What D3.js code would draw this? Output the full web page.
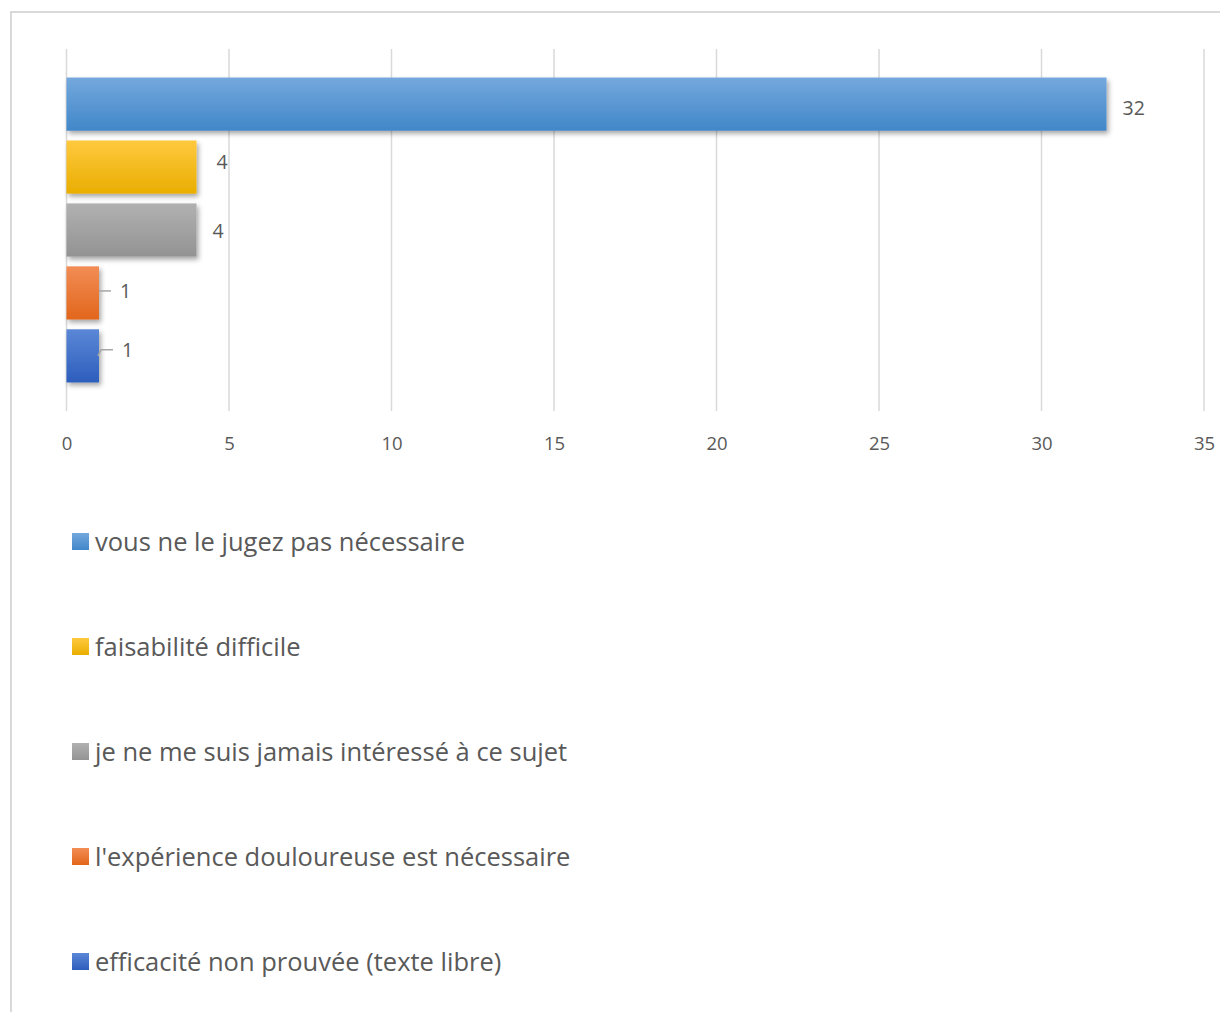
<!DOCTYPE html>
<html>
<head>
<meta charset="utf-8">
<script src="https://cdn.jsdelivr.net/npm/d3@7"></script>
<style>
  body { margin: 0; background: #fff; }
  text { font-family: "Open Sans", "Noto Sans", sans-serif; fill: #595959; }
</style>
</head>
<body>
<svg id="chart"></svg>
<script>
const width = 1220, height = 1012;
const categories = [
  "vous ne le jugez pas nécessaire",
  "faisabilité difficile",
  "je ne me suis jamais intéressé à ce sujet",
  "l'expérience douloureuse est nécessaire",
  "efficacité non prouvée (texte libre)"
];
const values = [32, 4, 4, 1, 1];
const ticks = [0, 5, 10, 15, 20, 25, 30, 35];
// top / bottom of each bar gradient
const colorsTop = ["#74a8dd", "#ffc93f", "#b1b1b1", "#f28d55", "#5b87d6"];
const colorsBottom = ["#4187c9", "#e9ae00", "#939393", "#e2661c", "#2d5ebd"];

let svg = d3.select("#chart")
  .attr("width", width)
  .attr("height", height);

let defs = svg.append("defs");
let shadow = defs.append("filter")
  .attr("id", "shadow")
  .attr("x", "-10%").attr("y", "-20%")
  .attr("width", "130%").attr("height", "160%");
shadow.append("feDropShadow")
  .attr("dx", 2).attr("dy", 3)
  .attr("stdDeviation", 2.5)
  .attr("flood-color", "#000")
  .attr("flood-opacity", 0.35);

categories.forEach((c, i) => {
  let g = defs.append("linearGradient")
    .attr("id", "grad" + i)
    .attr("x1", 0).attr("y1", 0).attr("x2", 0).attr("y2", 1);
  g.append("stop").attr("offset", "0%").attr("stop-color", colorsTop[i]);
  g.append("stop").attr("offset", "100%").attr("stop-color", colorsBottom[i]);
});

// chart frame
svg.append("rect")
  .attr("x", 11).attr("y", 12)
  .attr("width", 1220).attr("height", 1020)
  .attr("fill", "none")
  .attr("stroke", "#d9d9d9")
  .attr("stroke-width", 2);

let x = d3.scaleLinear()
  .domain([0, 35])
  .range([66.5, 1204]);

let y = d3.scaleBand()
  .domain(categories)
  .range([72.5, 387.5])
  .paddingInner(0.155)
  .paddingOuter(0.08);

// gridlines
svg.append("g").selectAll("line")
  .data(ticks)
  .enter().append("line")
  .attr("x1", d => x(d)).attr("x2", d => x(d))
  .attr("y1", 49).attr("y2", 411)
  .attr("stroke", "#d9d9d9")
  .attr("stroke-width", 1.5);

let xAxis = d3.axisBottom(x)
  .tickValues(ticks)
  .tickSize(0)
  .tickPadding(0);
let axisG = svg.append("g")
  .attr("transform", "translate(0, 437)")
  .call(xAxis);
axisG.select(".domain").remove();
axisG.selectAll("text")
  .attr("dy", "0.71em")
  .style("font-size", "18.5px")
  .style("fill", "#595959")
  .style("font-family", "'Open Sans', 'Noto Sans', sans-serif");

// bars
svg.append("g").selectAll("rect")
  .data(values)
  .enter().append("rect")
  .attr("x", x(0))
  .attr("y", (d, i) => y(categories[i]))
  .attr("width", d => x(d) - x(0))
  .attr("height", y.bandwidth())
  .attr("fill", (d, i) => `url(#grad${i})`)
  .attr("filter", "url(#shadow)");

// data labels
const labelDx = [16, 20, 16, 21, 23];
const labelDy = [4.5, -4.5, 1, -1.5, -6];
svg.append("g").selectAll("text")
  .data(values)
  .enter().append("text")
  .attr("x", (d, i) => x(d) + labelDx[i])
  .attr("y", (d, i) => y(categories[i]) + y.bandwidth() / 2 + labelDy[i])
  .attr("dy", "0.35em")
  .style("font-size", "19.5px")
  .text(d => d);

// leader lines for the small bars
svg.append("path")
  .attr("d", `M${x(1)},${y(categories[3]) + y.bandwidth() / 2 - 2}h12`)
  .attr("stroke", "#a6a6a6").attr("stroke-width", 1.5).attr("fill", "none");
svg.append("path")
  .attr("d", `M${x(1) - 1},${y(categories[4]) + y.bandwidth() / 2}l3,-6h12`)
  .attr("stroke", "#a6a6a6").attr("stroke-width", 1.5).attr("fill", "none");

// legend
let legend = svg.append("g").selectAll("g")
  .data(categories)
  .enter().append("g")
  .attr("transform", (d, i) => `translate(72, ${542 + i * 105})`);
legend.append("rect")
  .attr("x", 0).attr("y", -9)
  .attr("width", 17).attr("height", 17)
  .attr("fill", (d, i) => `url(#grad${i})`);
legend.append("text")
  .attr("x", 23)
  .attr("y", 0)
  .attr("dy", "0.35em")
  .style("font-size", "25.5px")
  .text(d => d);
</script>
</body>
</html>
